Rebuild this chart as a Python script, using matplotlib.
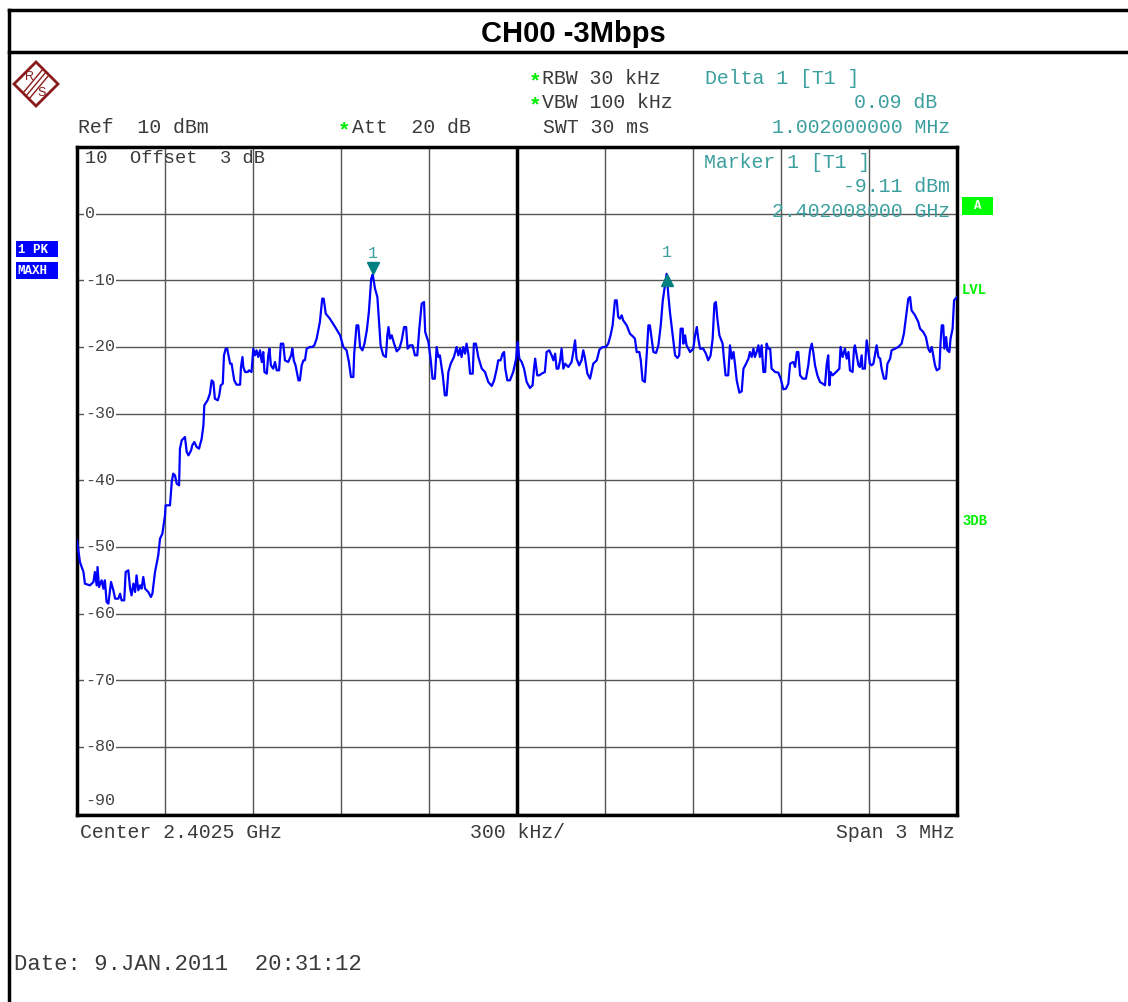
import matplotlib
matplotlib.use('Agg')
import matplotlib.pyplot as plt
import matplotlib.transforms as mtransforms
from matplotlib.patches import Polygon, Rectangle
import numpy as np

# ---- data ----
start_ghz = 2.401
span_khz = 3000
# frequency offset from start (kHz) and trace level (dBm), max-hold trace
freq_khz = [
    0, 10, 22, 27, 44, 56, 61, 67, 70, 75,
    84, 90, 95, 101, 107, 116, 124, 130, 141, 147,
    152, 161, 166, 175, 181, 186, 192, 198, 203, 209,
    215, 220, 226, 232, 243, 252, 257, 266, 277, 283,
    291, 300, 302, 317, 323, 328, 334, 340, 348, 351,
    357, 368, 374, 380, 389, 393, 400, 408, 416, 425,
    431, 434, 445, 453, 459, 465, 470, 480, 485, 490,
    497, 501, 507, 512, 522, 527, 536, 544, 556, 559,
    564, 567, 573, 582, 586, 595, 601, 607, 612, 618,
    624, 630, 635, 639, 647, 652, 656, 661, 669, 675,
    681, 689, 695, 703, 709, 720, 730, 734, 739, 745,
    755, 760, 766, 772, 777, 783, 794, 802, 809, 817,
    828, 836, 841, 848, 862, 880, 897, 908, 919, 927,
    934, 942, 945, 953, 959, 965, 973, 980, 988, 995,
    1003, 1008,
    1016, 1024, 1031, 1035, 1044, 1053, 1058, 1062, 1067, 1073,
    1081, 1090, 1099, 1107, 1115, 1122, 1127, 1135, 1144, 1152,
    1160, 1167, 1175, 1183, 1187, 1198, 1206, 1212, 1220, 1226,
    1232, 1237, 1247, 1254, 1260, 1266, 1274, 1285, 1294, 1300,
    1306, 1311, 1317, 1323, 1328, 1334, 1340, 1349, 1353, 1360,
    1368, 1380, 1391, 1402, 1414, 1422, 1431, 1436, 1444, 1451,
    1456, 1460, 1467, 1476, 1487, 1497, 1502, 1508, 1516, 1524,
    1533, 1544, 1553, 1558, 1562, 1569, 1576, 1584, 1595, 1601,
    1610, 1618, 1624, 1630, 1635, 1641, 1647, 1652, 1658, 1664,
    1675, 1686, 1692, 1698, 1703, 1712, 1720, 1726, 1732, 1740,
    1749, 1760, 1772, 1781,
    1792, 1803, 1811, 1819, 1826, 1834, 1840, 1845, 1851, 1857,
    1862, 1874, 1885, 1897, 1902, 1908, 1917, 1922, 1928, 1936,
    1942, 1948, 1953, 1959, 1965, 1974, 1982, 1990, 1997, 2010,
    2016, 2022, 2031, 2039, 2047, 2053, 2058, 2065, 2067, 2073,
    2078, 2090, 2101, 2107, 2113, 2118, 2124, 2135, 2144, 2152,
    2160, 2167, 2173, 2178, 2183, 2190, 2201, 2206, 2211, 2220,
    2226, 2232, 2238, 2243, 2249, 2258, 2266, 2272, 2281, 2289,
    2294, 2300, 2306, 2311, 2317, 2323, 2328, 2334, 2340, 2346,
    2351, 2357, 2363, 2368, 2380, 2391, 2399, 2408, 2417, 2425,
    2431, 2442, 2448, 2454, 2459, 2465, 2474, 2485, 2493, 2499,
    2505, 2510, 2516, 2524, 2533, 2542, 2550, 2556, 2561, 2565,
    2569, 2576, 2588, 2599, 2603, 2610, 2618, 2624, 2630, 2635,
    2644, 2649, 2652, 2658, 2664, 2669, 2675, 2678, 2686, 2692,
    2698, 2703, 2709, 2715, 2720, 2726, 2732, 2738, 2743, 2751,
    2758, 2763, 2772, 2777, 2789, 2800, 2811, 2819, 2826, 2834,
    2840, 2845, 2857, 2868, 2874, 2885, 2894, 2902, 2908, 2914,
    2919, 2925, 2931, 2940, 2944, 2948, 2953, 2957, 2963, 2967,
    2974, 2978, 2985, 2990, 3000,
]
level_dbm = [
    -49, -52.25, -53.75, -55.5, -55.75, -55.25, -53.75, -55.75, -53, -56,
    -55, -56.25, -55, -58.25, -58.5, -55.25, -56.5, -57.75, -57.75, -57,
    -58, -58, -53.75, -53.5, -56.25, -57.25, -55.5, -56.75, -54.25, -56.5,
    -55.75, -56.25, -54.5, -56.25, -56.75, -57.5, -57, -53.75, -51.25, -48.75,
    -48, -45.25, -43.75, -43.75, -40.25, -39, -39.25, -40.5, -40.75, -35.25,
    -34, -33.5, -35.75, -36.25, -35.5, -34.75, -34.25, -35, -35.25, -33.75,
    -31.75, -28.75, -28, -27, -25, -25.25, -27.75, -28, -27.25, -25.75,
    -25.5, -21.25, -20.25, -20.25, -22.5, -22.5, -25, -25.65, -25.65, -23,
    -21.5, -23, -23.75, -23.75, -23.5, -23.75, -20.25, -21.25, -20.5, -21.5,
    -20.5, -22.25, -20.75, -23.75, -24, -21.25, -20.25, -22.75, -23.25, -22.25,
    -23.5, -23.5, -19.5, -19.5, -22, -22.25, -21.25, -20.25, -22, -22.75,
    -25, -25, -22.75, -22, -22, -20.25, -20, -20, -19.75, -18.75,
    -16.25, -12.75, -12.75, -15, -15.75, -17, -18.25, -20, -20.5, -22.25,
    -24.5, -24.5, -21, -16.75, -16.75, -20, -20.5, -19.5, -17.5, -14.75,
    -9.75, -9.11,
    -11.25, -12.5, -17.25, -19.75, -21.25, -21.5, -18.25, -17, -18.75, -18.25,
    -19.5, -20.65, -20.25, -19, -17, -17, -20.25, -19.75, -19.75, -21.25,
    -21.25, -17.25, -13.5, -13.25, -17.75, -19.25, -22, -24.75, -24.75, -20,
    -21.5, -21.25, -24.25, -27.25, -27.25, -23.75, -22.5, -21.5, -20, -21.25,
    -20.25, -21.5, -20, -21, -19.5, -21, -24, -24, -19.5, -19.5,
    -21.5, -23.25, -23.75, -25.25, -25.85, -25, -23.25, -22, -22, -21,
    -20.75, -23.25, -25, -25, -23.75, -21.75, -19.25, -21.75, -22.25, -23.25,
    -25.25, -26.15, -25.75, -23.25, -21.75, -24.25, -24.25, -24, -23.75, -20.75,
    -20.5, -21.25, -22, -21, -23.25, -23.25, -22, -20.25, -23.25, -22.5,
    -23, -22.25, -20.75, -19, -21.75, -22.75, -22, -20.5, -21.75, -24,
    -24.75, -22.5, -22, -20.4,
    -20, -20, -19.5, -18.25, -16.75, -13, -13, -15.5, -15.75, -15.25,
    -16, -16.75, -18, -18.5, -18.75, -20.75, -20.75, -22, -25, -25.25,
    -21.25, -16.75, -16.75, -18.75, -20.75, -20.9, -19.75, -16.75, -13, -9.02,
    -12.25, -15, -18.25, -21.25, -21.65, -21.25, -17.25, -17.25, -19.5, -18.25,
    -19.75, -20.75, -20.25, -18.25, -17, -18.75, -20.25, -20.25, -21, -22,
    -21.25, -18.75, -13.5, -13.25, -15.75, -18.25, -19.5, -22, -24.25, -24.25,
    -19.75, -21.75, -20.75, -22.5, -25, -26.85, -26.65, -23.25, -22.5, -21.75,
    -20.75, -21.5, -20.25, -21.5, -20.75, -19.75, -21.5, -19.75, -23.75, -23.75,
    -19.5, -20.25, -20.25, -23.25, -23.75, -23.85, -24.75, -26.35, -26.25, -25.5,
    -22.5, -22.25, -23, -20.75, -20.75, -24.25, -24.75, -24.75, -22.75, -20.5,
    -19.5, -20.75, -22.75, -24.25, -25.25, -25.5, -25.75, -22.5, -21.25, -25.75,
    -23.75, -24.25, -23.75, -23.25, -20, -21.5, -20.25, -21.75, -20.75, -23.5,
    -23.75, -20.25, -19.75, -21.25, -22.75, -23, -21.25, -23.25, -23.25, -19,
    -20.75, -22.5, -22.75, -22.5, -21.25, -19.75, -21.5, -21.75, -23.25, -24.75,
    -24.75, -22.5, -21.75, -20.5, -20.25, -20, -19.5, -18, -15.5, -12.75,
    -12.5, -14.5, -15.25, -16.25, -17.25, -17.75, -18.5, -20.25, -20.75, -20,
    -21.25, -22.75, -23.5, -23.25, -19.25, -16.75, -16.75, -20.25, -18.5, -20.5,
    -20.75, -18.75, -17.25, -13, -12.5,
]
marker_khz, marker_dbm = 1008, -9.11
delta_khz, delta_dbm = 2010, -9.02
y_ticks = [0, -10, -20, -30, -40, -50, -60, -70, -80, -90]

W, H = 1128, 1002
mono = 'Liberation Mono'
dark = '#3a3a3a'
teal = '#3c9f9f'
green = '#00ee00'

fig = plt.figure(figsize=(W / 100, H / 100), dpi=100)
fig.patch.set_facecolor('white')

# main trace axes (pixel box 77..957 x 147..815)
ax = fig.add_axes([77 / W, 1 - 815 / H, 880 / W, 668 / H])
ax.set_xlim(0, span_khz)
ax.set_ylim(-90.2, 10)
ax.set_xticks(np.arange(0, span_khz + 1, 300))
ax.set_yticks(np.arange(-90, 11, 10))
ax.tick_params(length=0, labelbottom=False, labelleft=False)
ax.grid(True, color='#555555', lw=1)
for s in ax.spines.values():
    s.set_linewidth(2.5)
    s.set_color('black')
ax.axvline(span_khz / 2, color='black', lw=2.5, zorder=2)

for v in y_ticks[:-1]:
    ax.text(0.009, v, '-' + str(-v) if v < 0 else str(v), transform=ax.get_yaxis_transform(),
            ha='left', va='center', fontsize=12, family=mono, color='#444444',
            bbox=dict(facecolor='white', edgecolor='none', pad=0.5), zorder=3)
ax.text(0.009, -88, '-90', transform=ax.get_yaxis_transform(), ha='left', va='center',
        fontsize=12, family=mono, color='#444444', zorder=3)
ax.text(0.009, 8.2, '10  Offset  3 dB', transform=ax.get_yaxis_transform(), ha='left',
        va='center', fontsize=13.5, family=mono, color=dark, zorder=3)

ax.plot(freq_khz, level_dbm, color='#0000ff', lw=1.6, zorder=4)

up = mtransforms.offset_copy(ax.transData, fig=fig, x=0, y=6, units='dots')
down = mtransforms.offset_copy(ax.transData, fig=fig, x=0, y=-6, units='dots')
ax.plot(marker_khz, marker_dbm, marker='v', ms=9, color='#008080', transform=up, zorder=5)
ax.plot(delta_khz, delta_dbm, marker='^', ms=9, color='#008080', transform=down, zorder=5)
ax.annotate('1', (marker_khz, marker_dbm), xytext=(0, 21), textcoords='offset pixels',
            ha='center', va='center', fontsize=12, family=mono, color=teal)
ax.annotate('1', (delta_khz, delta_dbm), xytext=(0, 21), textcoords='offset pixels',
            ha='center', va='center', fontsize=12, family=mono, color=teal)

# overlay in pixel coordinates for the frame and annotations
ov = fig.add_axes([0, 0, 1, 1], zorder=10)
ov.set_xlim(0, W)
ov.set_ylim(H, 0)
ov.axis('off')

ov.plot([9, W], [10, 10], color='black', lw=2.5)
ov.plot([9, W], [52, 52], color='black', lw=2.5)
ov.plot([9, 9], [10, H], color='black', lw=2.5)
ov.text(573, 34, 'CH00 -3Mbps', ha='center', va='center', fontsize=21,
        family='Liberation Sans', weight='bold', color='black')

# R&S logo
logo_red = '#8b1a1a'
ov.add_patch(Polygon([[36, 62], [58, 84], [36, 106], [14, 84]], closed=True,
                     fill=False, edgecolor=logo_red, lw=2))
for d in (-3, 0, 3):
    ov.plot([46 + d, 26 + d], [72 + d, 96 + d], color=logo_red, lw=1)
ov.text(29, 77, 'R', ha='center', va='center', fontsize=9, color=logo_red, family='Liberation Sans')
ov.text(42, 93, 'S', ha='center', va='center', fontsize=9, color=logo_red, family='Liberation Sans')

def t(x, y, s, color=dark, ha='left', size=14.3, **kw):
    ov.text(x, y, s, ha=ha, va='center', fontsize=size, family=mono, color=color, **kw)

t(529, 82, '*', color=green, size=15, weight='bold')
t(542, 78, 'RBW 30 kHz')
t(529, 106, '*', color=green, size=15, weight='bold')
t(542, 102, 'VBW 100 kHz')
t(543, 127, 'SWT 30 ms')
t(78, 127, 'Ref  10 dBm')
t(338, 131, '*', color=green, size=15, weight='bold')
t(352, 127, 'Att  20 dB')
t(705, 78, 'Delta 1 [T1 ]', color=teal)
t(937, 102, '0.09 dB', color=teal, ha='right')
t(950, 127, '1.002000000 MHz', color=teal, ha='right')
t(704, 162, 'Marker 1 [T1 ]', color=teal)
t(950, 186, '-9.11 dBm', color=teal, ha='right')
t(950, 211, '2.402008000 GHz', color=teal, ha='right')

t(80, 832, 'Center 2.4025 GHz')
t(470, 832, '300 kHz/')
t(955, 832, 'Span 3 MHz', ha='right')
t(14, 965, 'Date: 9.JAN.2011  20:31:12', size=16)

# side indicators
ov.add_patch(Rectangle((16, 241), 42, 16, facecolor='#0000ff', edgecolor='none'))
ov.add_patch(Rectangle((16, 262), 42, 17, facecolor='#0000ff', edgecolor='none'))
t(18, 249.5, '1 PK', color='white', size=9, weight='bold')
t(17, 270.5, 'MAXH', color='white', size=9, weight='bold')
ov.add_patch(Rectangle((962, 197), 31, 18, facecolor='#00ff00', edgecolor='none'))
t(977.5, 206, 'A', color='white', ha='center', size=9, weight='bold')
t(962, 290, 'LVL', color=green, size=10, weight='bold')
t(962, 521, '3DB', color=green, size=10, weight='bold')

fig.savefig('out.png', dpi=100)
